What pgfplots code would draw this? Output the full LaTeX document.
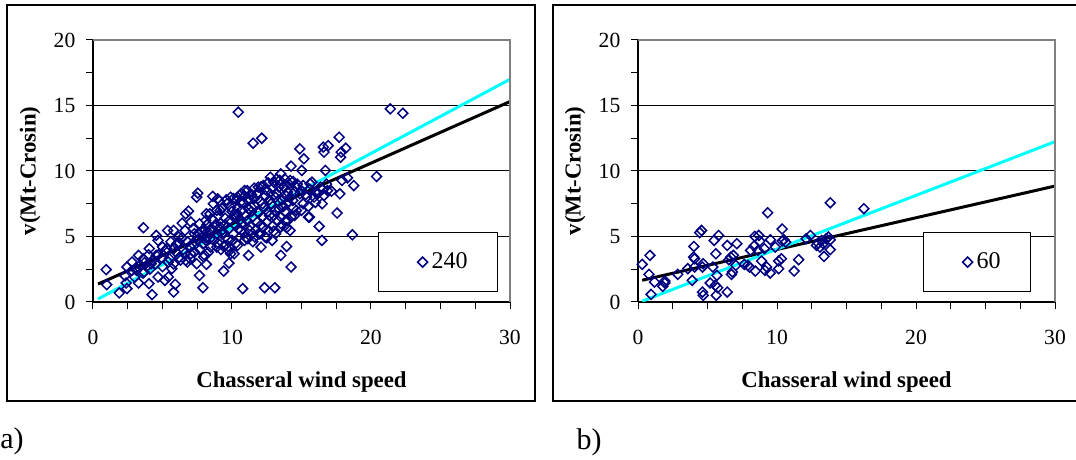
\documentclass[border=0pt]{standalone}
\usepackage{fontspec}
\setmainfont{Liberation Serif}
\usepackage{pgfplots}
\usepackage{pgfplotstable}
\pgfplotsset{compat=1.18}
\definecolor{navyb}{RGB}{0,0,128}
\definecolor{cyanl}{RGB}{0,255,255}
\pgfplotstableread{
x y
0.95 2.47
0.99 1.32
1.89 0.69
2.44 1.02
2.39 1.45
2.44 2.67
2.81 3.05
3.28 1.45
3.28 3.56
3.63 5.67
3.63 3.30
4.03 1.40
4.25 0.56
4.68 1.91
4.05 4.07
4.55 5.08
4.68 4.70
5.17 1.65
5.42 1.91
5.37 5.46
5.67 2.54
5.80 0.76
5.92 1.35
5.80 5.46
6.42 6.02
6.67 6.73
6.87 6.94
7.46 8.00
7.54 8.31
7.46 2.92
7.66 2.03
7.91 1.09
8.16 2.87
7.96 3.43
8.61 8.06
8.96 7.88
9.40 2.36
9.78 2.97
10.32 7.80
10.45 14.49
10.77 1.02
11.19 3.56
11.52 12.12
12.14 12.50
12.34 1.09
13.08 1.09
13.51 3.56
13.93 4.24
14.25 2.67
14.25 10.37
14.88 11.69
15.17 10.93
15.02 10.04
15.57 6.48
16.27 5.77
16.47 4.70
16.49 7.50
16.62 11.44
16.57 11.82
16.92 11.94
16.72 10.04
17.16 8.46
17.56 6.79
17.71 12.58
17.81 11.05
17.86 11.44
17.76 8.26
17.91 9.28
18.18 11.74
18.31 9.48
18.76 8.89
18.66 5.13
20.40 9.58
21.39 14.74
22.29 14.41
13.51 9.78
13.43 9.28
14.18 9.28
14.18 5.46
13.93 5.67
12.09 4.19
12.39 4.96
11.14 4.83
9.40 4.24
9.90 3.68
8.91 4.19
8.46 4.19
8.11 4.70
6.62 3.74
5.97 3.81
6.67 3.18
6.79 3.05
7.04 3.68
4.93 3.38
4.55 3.56
3.88 2.72
4.18 2.92
3.13 2.41
3.68 2.29
5.42 3.05
5.80 4.07
6.17 4.96
5.30 4.07
6.17 4.57
6.62 5.46
7.04 6.10
7.29 5.21
7.66 5.21
8.11 6.23
8.41 6.73
8.16 6.73
8.66 7.50
9.15 5.72
9.15 6.99
9.65 7.50
9.90 7.24
10.15 6.48
10.40 6.73
10.65 8.26
10.90 8.51
11.14 7.75
11.39 7.24
11.77 8.26
11.89 8.77
12.26 8.89
12.51 8.51
12.76 9.53
13.01 9.15
13.13 8.00
13.38 8.77
13.76 8.77
14.00 8.39
14.38 7.75
14.63 8.77
14.88 8.26
15.12 8.89
15.37 8.00
15.62 9.02
15.75 9.15
15.99 8.39
16.37 8.77
16.62 8.13
16.87 8.51
15.50 6.48
15.12 7.50
14.63 6.99
14.25 6.48
13.88 6.23
13.51 5.72
13.13 5.21
12.89 4.70
12.64 5.46
12.26 5.72
11.89 5.21
11.64 4.96
11.27 5.46
10.90 4.70
10.65 5.46
10.40 4.32
10.15 3.68
9.78 4.19
9.53 4.96
9.28 5.21
8.91 5.21
8.66 5.46
8.41 4.83
7.91 4.45
7.54 4.70
7.16 4.45
8.03 5.46
7.66 5.97
9.2 6.0
9.5 6.4
9.8 5.6
10.0 6.9
10.2 5.9
10.4 7.2
10.6 6.3
10.8 7.6
11.0 6.6
11.2 7.9
11.4 6.9
11.6 7.4
11.8 6.1
12.0 7.7
12.2 6.5
12.4 8.1
12.6 6.9
12.8 7.5
13.0 6.6
13.2 8.3
13.4 7.1
13.6 7.8
13.8 6.9
14.0 7.6
14.2 8.0
14.4 7.2
9.4 5.3
9.7 4.8
10.1 5.2
10.3 6.5
10.5 5.6
10.7 6.0
10.9 5.3
11.1 6.2
11.3 5.8
11.5 6.5
11.7 5.5
11.9 6.8
12.1 5.9
12.3 7.2
12.5 6.1
12.7 6.6
12.9 5.8
13.1 7.0
13.3 6.2
13.5 6.5
13.7 7.3
9.0 6.6
8.8 5.9
8.6 6.3
8.4 5.5
8.2 5.9
8.0 5.1
9.3 7.2
9.6 7.8
9.9 8.0
10.1 7.9
10.4 8.0
10.6 7.6
10.9 8.1
11.1 8.5
11.4 8.2
11.6 8.7
11.9 8.3
12.1 8.8
12.4 8.6
12.6 9.1
12.9 8.7
13.2 9.4
13.5 9.0
13.8 9.4
14.1 9.0
14.4 9.2
14.7 9.0
15.0 8.5
15.3 8.2
15.6 8.6
15.9 8.0
16.2 8.3
16.5 8.6
16.8 9.0
10.0 4.7
10.3 4.5
11.0 4.9
11.5 4.6
12.0 5.2
12.5 4.9
13.0 5.4
13.6 5.9
14.0 6.2
14.5 6.6
15.0 7.0
15.5 7.3
16.0 7.6
8.9 7.0
9.1 7.7
9.5 5.9
9.8 6.2
10.2 6.7
10.7 7.0
11.2 7.1
11.6 7.9
12.2 7.5
12.7 7.8
13.3 7.7
13.9 8.1
14.5 8.4
7.2 5.6
7.5 5.0
7.8 5.4
8.1 4.9
8.4 5.2
8.7 4.7
9.0 4.5
9.2 4.0
9.5 4.3
9.8 3.9
6.4 4.9
6.8 4.6
7.0 4.2
7.3 3.8
7.7 4.0
8.0 3.6
8.3 3.8
6.0 4.4
5.6 4.6
5.2 3.9
5.0 4.2
4.7 3.6
4.3 3.2
4.0 3.6
3.7 3.0
3.4 2.8
3.1 2.6
2.8 2.4
4.5 2.9
5.0 2.7
5.5 3.3
6.2 3.4
6.5 4.0
7.0 3.3
2.3 2.0
3.0 1.9
3.6 2.2
4.1 2.5
5.8 2.9
6.3 3.2
}\dataA
\pgfplotstableread{
x y
0.30 2.87
0.86 3.56
0.79 2.11
1.19 1.52
0.94 0.58
1.78 1.19
1.93 1.45
1.93 1.60
2.86 2.11
3.58 2.54
3.90 1.65
4.02 4.24
4.07 3.30
4.00 3.43
4.07 2.67
4.44 5.29
4.57 5.46
4.69 2.92
4.64 0.76
4.69 0.51
4.64 2.67
5.19 1.45
5.38 2.67
5.48 4.70
5.60 3.68
5.56 1.27
5.63 0.51
5.73 1.09
5.80 5.08
5.68 2.03
6.42 4.32
6.42 0.76
6.54 3.23
6.67 3.43
6.72 2.11
6.86 3.56
6.79 2.29
7.11 4.45
7.04 2.80
7.65 2.87
7.90 2.80
8.02 2.67
8.10 3.94
8.35 4.27
8.40 5.01
8.44 2.36
8.64 3.94
8.69 5.08
8.77 4.65
8.89 3.13
9.09 4.07
9.14 2.41
9.26 2.67
9.33 6.81
9.53 4.75
9.51 2.21
9.88 4.19
10.12 2.54
10.12 3.13
10.32 3.30
10.37 5.57
10.37 4.65
10.49 4.75
10.62 4.57
11.23 2.36
11.56 3.23
12.40 5.08
12.84 4.32
12.96 4.50
13.09 4.19
13.21 4.70
13.38 3.48
13.53 4.83
13.70 4.96
13.83 3.99
13.83 4.75
13.83 7.57
16.25 7.12
12.10 4.83
13.33 4.45
}\dataB
\pgfplotsset{
  panel/.style={
    scale only axis, width=208.5pt, height=131pt,
    xmin=0,xmax=30,ymin=0,ymax=20,
    xtick={0,10,20,30}, minor xtick={2.5,5,7.5,12.5,15,17.5,22.5,25,27.5},
    ytick={0,5,10,15,20}, minor ytick={2.5,7.5,12.5,17.5},
    tick align=outside, major tick length=3.3pt, minor tick length=3.3pt,
    tick style={black, line width=0.5pt},
    axis lines*=left, axis line style={black,line width=0.6pt},
    ymajorgrids, grid style={black,line width=0.5pt},
    /pgf/number format/assume math mode=true,
    ticklabel style={font=\fontsize{10.8}{12}\selectfont},
    xticklabel shift=7pt, yticklabel shift=2pt,
    label style={font=\bfseries\fontsize{11.4}{13}\selectfont},
    xlabel={Chasseral wind speed}, ylabel={v(Mt-Crosin)},
    xlabel style={at={(axis description cs:0.5,-0.305)},anchor=center},
    ylabel style={at={(axis description cs:-0.151,0.5)},anchor=center},
    legend style={at={(axis description cs:0.683,0.267)},anchor=north west, draw=black, line width=0.6pt, inner xsep=13pt, inner ysep=8pt, font=\fontsize{12}{14}\selectfont},
    legend image code/.code={\path[draw=none,fill=none] (0cm,0cm) rectangle (0.32cm,0.01cm); \draw[##1] plot coordinates {(0.32cm,0cm)};},
    after end axis/.code={\draw[gray,line width=0.6pt] (rel axis cs:0,1) -- (rel axis cs:1,1) -- (rel axis cs:1,0);},
  },
  pts/.style={only marks, mark=square, mark size=1.75pt, mark options={rotate=45, draw=navyb, line width=0.75pt, fill=none}},
}
\begin{document}
\begin{tikzpicture}
\useasboundingbox (0,0) rectangle (538pt,230pt);
\draw[line width=1pt] (3.5pt,227.5pt) rectangle (267.5pt,29.5pt);
\draw[line width=1pt] (276.5pt,227.5pt) rectangle (541pt,29.5pt);
\begin{axis}[panel, at={(46.5pt,79pt)}, anchor=south west]
\addplot[pts] table {\dataA};
\addlegendentry{240}
\addplot[black, line width=1.5pt, forget plot] coordinates {(0.36,1.37) (30,15.3)};
\addplot[cyanl, line width=1.5pt, forget plot] coordinates {(0.36,0.23) (30,17.0)};
\end{axis}
\begin{axis}[panel, at={(319pt,79pt)}, anchor=south west]
\addplot[pts] table {\dataB};
\addlegendentry{60}
\addplot[black, line width=1.5pt, forget plot] coordinates {(0.3,1.66) (30,8.85)};
\addplot[cyanl, line width=1.5pt, forget plot] coordinates {(0.3,0.06) (30,12.24)};
\end{axis}
\node[font=\fontsize{15}{17}\selectfont] at (6pt,9.5pt) {a)};
\node[font=\fontsize{15}{17}\selectfont] at (294.5pt,9pt) {b)};
\end{tikzpicture}
\end{document}
